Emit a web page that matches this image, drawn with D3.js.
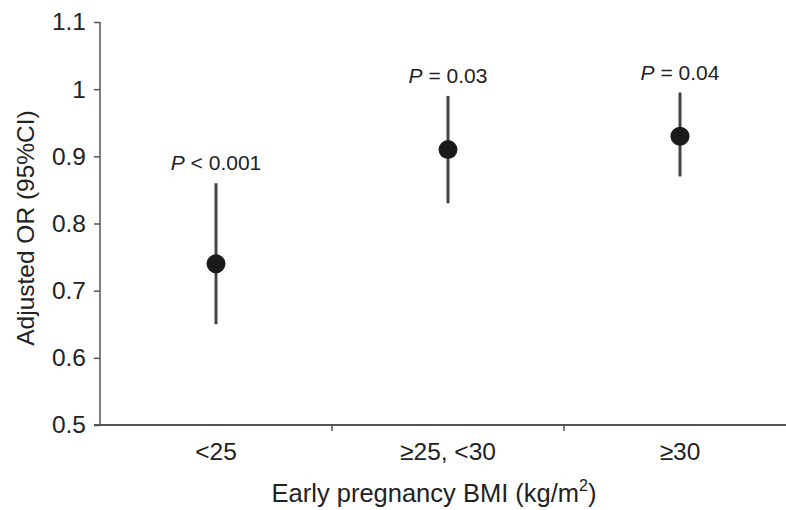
<!DOCTYPE html>
<html>
<head>
<meta charset="utf-8">
<script src="https://cdn.jsdelivr.net/npm/d3@7"></script>
<style>
  body { margin: 0; background: #fff; }
  text { font-family: "Liberation Sans", Arial, sans-serif; fill: #222; }
</style>
</head>
<body>
<div id="chart"></div>
<script>
var svgWidth = 786;
var svgHeight = 510;

// data
var categories = ["<25", "\u226525, <30", "\u226530"];
var orValues = [0.74, 0.91, 0.93];
var ciLower = [0.65, 0.83, 0.87];
var ciUpper = [0.86, 0.99, 0.995];
var pLabels = ["< 0.001", "= 0.03", "= 0.04"];
var yTicks = [0.5, 0.6, 0.7, 0.8, 0.9, 1, 1.1];

var margin = { top: 22, right: -10, bottom: 85, left: 100 };

var svg = d3.select("#chart")
  .append("svg")
  .attr("width", svgWidth)
  .attr("height", svgHeight);

var xScale = d3.scaleBand()
  .domain(categories)
  .range([margin.left, svgWidth - margin.right])
  .padding(0);

var yScale = d3.scaleLinear()
  .domain([0.5, 1.1])
  .range([svgHeight - margin.bottom, margin.top]);

var axisColor = "#555";

// y axis
var yAxis = svg.append("g")
  .attr("transform", `translate(${margin.left}, 0)`)
  .call(d3.axisLeft(yScale)
    .tickValues(yTicks)
    .tickSize(6)
    .tickPadding(8)
    .tickFormat(d => d3.format("")(d)));
yAxis.selectAll("text").style("font-size", "24.5px").attr("fill", "#222");
yAxis.selectAll("line, path").attr("stroke", axisColor).attr("stroke-width", 1.5);
yAxis.select("path").attr("d", `M0,${yScale(1.1)}V${yScale(0.5)}`);

// x axis: labels at band centres, ticks at band edges
var x0 = svgHeight - margin.bottom;
var xAxis = svg.append("g")
  .attr("transform", `translate(0, ${x0})`)
  .call(d3.axisBottom(xScale).tickSize(0).tickPadding(18));
xAxis.select("path").remove();
xAxis.selectAll("text").style("font-size", "24.5px").attr("fill", "#222");

svg.append("line")
  .attr("x1", margin.left - 6).attr("x2", svgWidth)
  .attr("y1", x0).attr("y2", x0)
  .attr("stroke", axisColor).attr("stroke-width", 2);

svg.selectAll(".xtick")
  .data(categories.slice(1))
  .enter()
  .append("line")
  .attr("class", "xtick")
  .attr("x1", d => xScale(d)).attr("x2", d => xScale(d))
  .attr("y1", x0).attr("y2", x0 + 6)
  .attr("stroke", axisColor).attr("stroke-width", 1.5);

// error bars
var cx = d => xScale(d) + xScale.bandwidth() / 2;

svg.selectAll(".ci")
  .data(categories)
  .enter()
  .append("line")
  .attr("class", "ci")
  .attr("x1", cx).attr("x2", cx)
  .attr("y1", (d, i) => yScale(ciLower[i]))
  .attr("y2", (d, i) => yScale(ciUpper[i]))
  .attr("stroke", "#444")
  .attr("stroke-width", 3);

svg.selectAll(".pt")
  .data(categories)
  .enter()
  .append("circle")
  .attr("class", "pt")
  .attr("cx", cx)
  .attr("cy", (d, i) => yScale(orValues[i]))
  .attr("r", 9.5)
  .attr("fill", "#1a1a1a");

// P value labels
var pText = svg.selectAll(".plabel")
  .data(categories)
  .enter()
  .append("text")
  .attr("class", "plabel")
  .attr("x", cx)
  .attr("y", (d, i) => yScale(ciUpper[i]) - 13)
  .attr("text-anchor", "middle")
  .style("font-size", "21px");
pText.append("tspan").attr("font-style", "italic").text("P");
pText.append("tspan").text((d, i) => " " + pLabels[i]);

// axis titles
svg.append("text")
  .attr("transform", "rotate(-90)")
  .attr("x", -228)
  .attr("y", 34)
  .attr("text-anchor", "middle")
  .style("font-size", "24.5px")
  .text("Adjusted OR (95%CI)");

var xTitle = svg.append("text")
  .attr("x", 434)
  .attr("y", 502)
  .attr("text-anchor", "middle")
  .style("font-size", "25.5px");
xTitle.append("tspan").text("Early pregnancy BMI (kg/m");
xTitle.append("tspan").attr("dy", -11).style("font-size", "16px").text("2");
xTitle.append("tspan").attr("dy", 11).text(")");
</script>
</body>
</html>
